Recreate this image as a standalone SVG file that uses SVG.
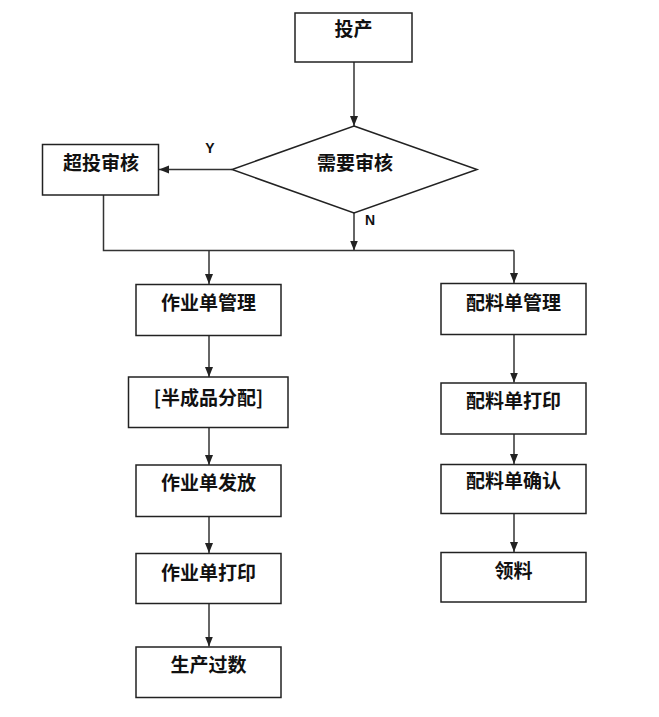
<svg xmlns="http://www.w3.org/2000/svg" width="659" height="717" viewBox="0 0 659 717">
<style>
.box{fill:#fff;stroke:#222;stroke-width:1.5}
.t{font-family:"Noto Sans CJK SC","Liberation Sans",sans-serif;font-weight:bold;font-size:19px;fill:#111;text-anchor:middle}
.lbl{font-family:"Liberation Sans",sans-serif;font-weight:bold;font-size:14px;fill:#111;text-anchor:middle}
.c{fill:none;stroke:#333;stroke-width:1.5}
</style>
<defs>
<marker id="ah" markerWidth="10" markerHeight="10" viewBox="0 0 10 10" refX="10" refY="5" orient="auto" markerUnits="userSpaceOnUse">
<path d="M0,1 L10,5 L0,9 Z" fill="#222"/>
</marker>
</defs>
<rect width="659" height="717" fill="#fff"/>
<g id="connectors">
<line class="c" x1="354" y1="62" x2="354" y2="126" marker-end="url(#ah)"/>
<line class="c" x1="232" y1="169.5" x2="159" y2="169.5" marker-end="url(#ah)"/>
<line class="c" x1="354" y1="213" x2="354" y2="250.5" marker-end="url(#ah)"/>
<polyline class="c" points="103.5,195 103.5,250.5 514,250.5"/>
<line class="c" x1="209" y1="250.5" x2="209" y2="284" marker-end="url(#ah)"/>
<line class="c" x1="514" y1="250.5" x2="514" y2="283" marker-end="url(#ah)"/>
<line class="c" x1="209" y1="336" x2="209" y2="377" marker-end="url(#ah)"/>
<line class="c" x1="209" y1="428" x2="209" y2="465" marker-end="url(#ah)"/>
<line class="c" x1="209" y1="517" x2="209" y2="553" marker-end="url(#ah)"/>
<line class="c" x1="209" y1="603.5" x2="209" y2="646.5" marker-end="url(#ah)"/>
<line class="c" x1="514" y1="334.5" x2="514" y2="382.5" marker-end="url(#ah)"/>
<line class="c" x1="514" y1="434" x2="514" y2="464" marker-end="url(#ah)"/>
<line class="c" x1="514" y1="513.5" x2="514" y2="552" marker-end="url(#ah)"/>
<text class="lbl" x="210" y="153">Y</text>
<text class="lbl" x="370" y="225">N</text>
</g>
<g id="n-touchan"><rect class="box" x="295" y="13" width="117" height="49"/><text class="t" x="353.5" y="36">投产</text></g>
<g id="n-xuyaoshenhe"><polygon class="box" points="354,126 477,169.5 354,213 232,169.5"/><text class="t" x="355" y="170">需要审核</text></g>
<g id="n-chaotoushenhe"><rect class="box" x="42.5" y="144.5" width="116" height="50.5"/><text class="t" x="101" y="170">超投审核</text></g>
<g id="n-zuoyedanguanli"><rect class="box" x="136" y="284.5" width="145" height="51"/><text class="t" x="208.5" y="310">作业单管理</text></g>
<g id="n-banchengpin"><rect class="box" x="128.5" y="377" width="159.5" height="50.5"/><text class="t" x="208.5" y="405">[半成品分配]</text></g>
<g id="n-zuoyedanfafang"><rect class="box" x="136" y="465" width="145" height="51.5"/><text class="t" x="208.5" y="490">作业单发放</text></g>
<g id="n-zuoyedandayin"><rect class="box" x="136" y="553.5" width="145" height="50"/><text class="t" x="208.5" y="579.5">作业单打印</text></g>
<g id="n-shengchanguoshu"><rect class="box" x="136" y="647" width="145" height="50.5"/><text class="t" x="208.5" y="672">生产过数</text></g>
<g id="n-peiliaodanguanli"><rect class="box" x="441" y="283.5" width="145" height="51"/><text class="t" x="513.5" y="310">配料单管理</text></g>
<g id="n-peiliaodandayin"><rect class="box" x="441" y="383" width="145" height="51"/><text class="t" x="513.5" y="407.5">配料单打印</text></g>
<g id="n-peiliaodanqueren"><rect class="box" x="441" y="464.5" width="145" height="49"/><text class="t" x="513.5" y="487.5">配料单确认</text></g>
<g id="n-lingliao"><rect class="box" x="441" y="552.5" width="145" height="49.5"/><text class="t" x="513.5" y="577.5">领料</text></g>
</svg>
